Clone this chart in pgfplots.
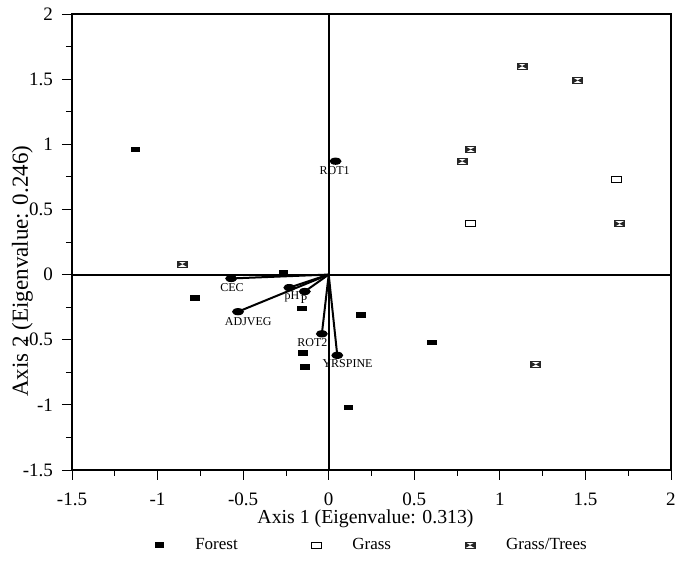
\documentclass[border=0pt]{standalone}
\usepackage{fontspec}
\setmainfont{Liberation Serif}
\usepackage{pgfplots}
\pgfplotsset{compat=1.18}

% small rectangular plot marks
\pgfdeclareplotmark{barfill}{%
  \pgfpathrectangle{\pgfpoint{-2.4pt}{-1.4pt}}{\pgfpoint{4.8pt}{2.8pt}}%
  \pgfusepathqfill}
\pgfdeclareplotmark{baropen}{%
  \pgfsetlinewidth{0.5pt}%
  \pgfpathrectangle{\pgfpoint{-2.4pt}{-1.4pt}}{\pgfpoint{4.8pt}{2.8pt}}%
  \pgfusepathqstroke}
\pgfdeclareplotmark{bowtie}{%
  \pgfsetlinewidth{0.5pt}%
  \pgfpathrectangle{\pgfpoint{-2.5pt}{-1.5pt}}{\pgfpoint{5pt}{3pt}}%
  \pgfusepathqstroke
  \pgfpathmoveto{\pgfpoint{-2.5pt}{-1.5pt}}%
  \pgfpathlineto{\pgfpoint{2.5pt}{1.5pt}}%
  \pgfpathlineto{\pgfpoint{2.5pt}{-1.5pt}}%
  \pgfpathlineto{\pgfpoint{-2.5pt}{1.5pt}}%
  \pgfpathclose
  \pgfusepathqfill}
\pgfdeclareplotmark{vecend}{%
  \pgfpathellipse{\pgfpointorigin}{\pgfpoint{3pt}{0pt}}{\pgfpoint{0pt}{1.8pt}}%
  \pgfusepathqfill}

\begin{document}
\begin{tikzpicture}
\path[use as bounding box] (-36pt,-51.5pt) rectangle (302.5pt,235pt);
\begin{axis}[
  at={(0,0)}, anchor=south west,
  scale only axis, width=299.5pt, height=228pt,
  xmin=-1.5, xmax=2, ymin=-1.5, ymax=2,
  xtick={-1.5,-1,...,2}, ytick={-1.5,-1,...,2},
  minor x tick num=1, minor y tick num=1,
  tick align=outside,
  xtick pos=bottom, ytick pos=left,
  major tick length=5pt, minor tick length=3pt,
  tick style={black, line width=0.4pt},
  axis line style={line width=1pt},
  tick label style={font=\fontsize{9.5}{11}\selectfont},
  /pgf/number format/assume math mode=true,
  yticklabel style={xshift=-1pt},
  xticklabel style={yshift=-3pt},
  xlabel={Axis 1 (Eigenvalue: 0.313)},
  ylabel={Axis 2 (Eigenvalue: 0.246)},
  xlabel style={font=\fontsize{9.9}{11}\selectfont,
    at={(axis description cs:0.49,-0.107)}, anchor=center},
  ylabel style={font=\fontsize{11.5}{13}\selectfont,
    at={(axis description cs:-0.083,0.436)}, anchor=center},
  legend columns=3,
  legend style={draw=none, fill=none, at={(0.502,-0.165)}, anchor=center,
    font=\fontsize{8.5}{10}\selectfont,
    /tikz/every odd column/.append style={column sep=13.5pt},
    /tikz/every even column/.append style={column sep=35pt}},
  clip=false,
]
% reference axes through the origin
\draw[line width=1pt] (axis cs:-1.5,0) -- (axis cs:2,0);
\draw[line width=1pt] (axis cs:0,-1.5) -- (axis cs:0,2);

% site scores
\addplot[only marks, mark=barfill, black] coordinates {
  (-1.13,0.96) (-0.78,-0.18) (-0.265,0.01) (-0.155,-0.26) (0.19,-0.31)
  (-0.15,-0.60) (-0.14,-0.71) (0.605,-0.52) (0.115,-1.02)
};
\addlegendentry{Forest}
\addplot[only marks, mark=baropen, black] coordinates {
  (1.68,0.73) (0.83,0.39)
};
\addlegendentry{Grass}
\addplot[only marks, mark=bowtie, black!85] coordinates {
  (-0.855,0.08) (1.13,1.60) (1.455,1.49) (0.83,0.96) (0.78,0.87)
  (1.70,0.39) (1.21,-0.69)
};
\addlegendentry{Grass/Trees}

% environmental vectors from the origin
\addplot[black, line width=1pt, quiver={u=\thisrow{u}, v=\thisrow{v}}, forget plot]
  table {
  x y u v
  0 0 -0.57 -0.03
  0 0 -0.53 -0.285
  0 0 -0.23 -0.10
  0 0 -0.14 -0.13
  0 0 -0.04 -0.455
  0 0 0.05 -0.62
};
\addplot[only marks, mark=vecend, black, forget plot] coordinates {
  (-0.57,-0.03) (-0.53,-0.285) (-0.23,-0.10) (-0.14,-0.13)
  (-0.04,-0.455) (0.05,-0.62) (0.04,0.87)
};
\begin{scope}[every node/.style={font=\fontsize{6}{7}\selectfont, inner sep=0pt}]
\node at (axis cs:-0.565,-0.10) {CEC};
\node at (axis cs:-0.47,-0.36) {ADJVEG};
\node at (axis cs:-0.215,-0.17) {pH};
\node at (axis cs:-0.145,-0.195) {P};
\node at (axis cs:-0.095,-0.52) {ROT2};
\node at (axis cs:0.11,-0.685) {YRSPINE};
\node at (axis cs:0.035,0.80) {ROT1};
\end{scope}
\end{axis}
\end{tikzpicture}
\end{document}
